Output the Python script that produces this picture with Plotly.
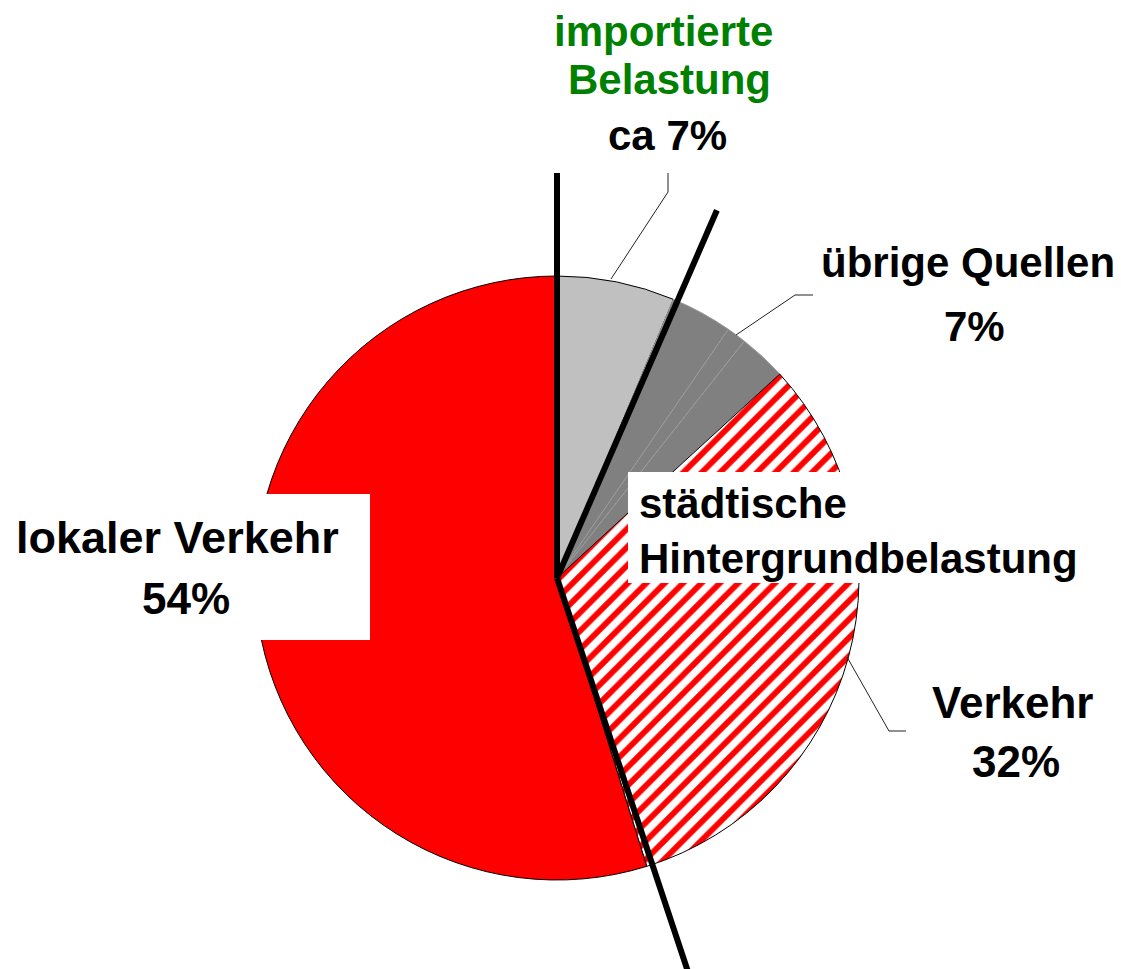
import math
import plotly.graph_objects as go

# ---- data ----
slice_labels = ["importierte Belastung", "übrige Quellen a", "übrige Quellen b",
                "übrige Quellen c", "städtische Hintergrundbelastung Verkehr", "lokaler Verkehr"]
slice_values = [6.3, 3.3, 1.05, 2.55, 32.0, 54.8]
slice_colors = ["#C0C0C0", "#808080", "#808080", "#808080", "#FFFFFF", "#FF0000"]
slice_line_colors = ["#000000", "#9A9A9A", "#9A9A9A", "#9A9A9A", "#000000", "#000000"]
slice_patterns = ["", "", "", "", "/", ""]

divider_angles = [0.0, 23.5, 161.6]      # degrees clockwise from 12 o'clock
divider_lengths = [405, 401, 440]        # px

# ---- canvas / geometry (page body has an 8px margin) ----
OFF = 8
W, H = 1121 - OFF, 969 - OFF
CX, CY, R = 557, 578, 302


def px(x):
    return (x - OFF) / W


def py(y):
    return 1 - (y - OFF) / H


fig = go.Figure()
fig.add_trace(go.Pie(
    labels=slice_labels,
    values=slice_values,
    sort=False,
    direction="clockwise",
    rotation=0,
    textinfo="none",
    hoverinfo="skip",
    showlegend=False,
    domain=dict(x=[px(CX - R), px(CX + R)], y=[py(CY + R), py(CY - R)]),
    marker=dict(
        colors=slice_colors,
        line=dict(color=slice_line_colors, width=1),
        pattern=dict(shape=slice_patterns, fgcolor="#FF0000", bgcolor="#FFFFFF",
                     size=13, solidity=0.45, fillmode="replace"),
    ),
))

shapes = []
# thick black divider lines from pie centre
for ang, ln in zip(divider_angles, divider_lengths):
    a = math.radians(ang)
    x1 = CX + ln * math.sin(a)
    y1 = CY - ln * math.cos(a)
    shapes.append(dict(type="line", xref="paper", yref="paper",
                       x0=px(CX), y0=py(CY), x1=px(x1), y1=py(y1),
                       line=dict(color="black", width=6), layer="above"))

# leader lines
leaders = [
    [(611, 279), (668, 192), (668, 173)],
    [(736, 335), (795, 295), (813, 295)],
    [(847, 657), (889, 731), (906, 731)],
]
for pts in leaders:
    path = "M " + " L ".join(f"{px(x)},{py(y)}" for x, y in pts)
    shapes.append(dict(type="path", xref="paper", yref="paper", path=path,
                       line=dict(color="#222222", width=1), layer="above"))

# white label boxes
boxes = [(0, 494, 370, 640), (628, 472, 1095, 583)]
for x0, y0, x1, y1 in boxes:
    shapes.append(dict(type="rect", xref="paper", yref="paper",
                       x0=px(x0), x1=px(x1), y0=py(y1), y1=py(y0),
                       fillcolor="white", line=dict(width=0), layer="above"))

# text lines: (text, x, y, anchor, color, size)
GREEN = "#008000"
texts = [
    ("importierte", 664, 32, "center", GREEN, 42),
    ("Belastung", 669, 80, "center", GREEN, 42),
    ("ca 7%", 667, 135, "center", "black", 42),
    ("übrige Quellen", 968, 262, "center", "black", 42),
    ("7%", 974, 326, "center", "black", 42),
    ("städtische", 637, 503, "left", "black", 42),
    ("Hintergrundbelastung", 637, 558, "left", "black", 42),
    ("Verkehr", 1012, 702, "center", "black", 44),
    ("32%", 1016, 761, "center", "black", 44),
    ("lokaler Verkehr", 177, 537, "center", "black", 45),
    ("54%", 186, 598, "center", "black", 44),
]
annotations = []
for t, x, y, anc, col, sz in texts:
    annotations.append(dict(text=t, x=px(x), y=py(y), xref="paper", yref="paper",
                            xanchor=anc, yanchor="middle", showarrow=False,
                            font=dict(family="Liberation Sans, Arial, sans-serif",
                                      size=sz, color=col, weight=700)))

fig.update_layout(
    width=W, height=H,
    margin=dict(l=0, r=0, t=0, b=0),
    paper_bgcolor="white", plot_bgcolor="white",
    shapes=shapes, annotations=annotations,
    showlegend=False,
)

fig.write_html("out.html")
